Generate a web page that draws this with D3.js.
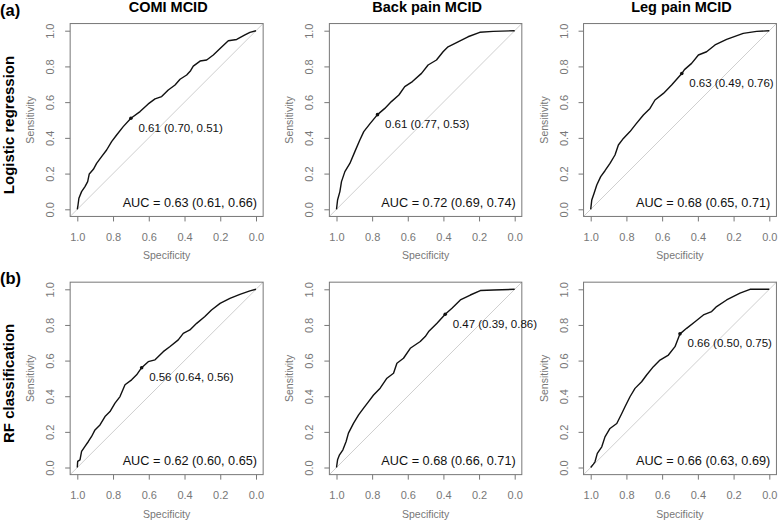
<!DOCTYPE html>
<html>
<head>
<meta charset="utf-8">
<script src="https://cdn.jsdelivr.net/npm/d3@7"></script>
<style>
  body { margin: 0; background: #fff; }
  svg { font-family: "Liberation Sans", Arial, sans-serif; }
</style>
</head>
<body>
<div id="chart"></div>
<script>
// values (specificity, sensitivity)
const panelTitles = ["COMI MCID", "Back pain MCID", "Leg pain MCID"];
const rowLabels = ["Logistic regression", "RF classification"];
const rowTags = ["(a)", "(b)"];
const tickValues = [1.0, 0.8, 0.6, 0.4, 0.2, 0.0];

const comiLrSpec = [1, 0.996, 0.991, 0.976, 0.957, 0.942, 0.933, 0.91, 0.892, 0.864, 0.836, 0.808, 0.78, 0.743, 0.70, 0.649, 0.603, 0.565, 0.528, 0.491, 0.453, 0.425, 0.388, 0.366, 0.351, 0.313, 0.276, 0.239, 0.201, 0.155, 0.108, 0.062, 0.034, 0];
const comiLrSens = [0, 0.024, 0.062, 0.099, 0.127, 0.155, 0.198, 0.224, 0.257, 0.295, 0.332, 0.379, 0.416, 0.463, 0.51, 0.547, 0.59, 0.618, 0.631, 0.668, 0.696, 0.728, 0.752, 0.776, 0.802, 0.83, 0.836, 0.864, 0.901, 0.944, 0.951, 0.976, 0.991, 1];

const backLrSpec = [1, 0.994, 0.981, 0.972, 0.953, 0.925, 0.897, 0.869, 0.847, 0.813, 0.77, 0.729, 0.692, 0.65, 0.617, 0.574, 0.523, 0.486, 0.439, 0.402, 0.374, 0.318, 0.262, 0.196, 0.121, 0];
const backLrSens = [0, 0.052, 0.099, 0.155, 0.211, 0.257, 0.323, 0.388, 0.435, 0.478, 0.53, 0.565, 0.603, 0.64, 0.687, 0.715, 0.761, 0.808, 0.836, 0.882, 0.91, 0.938, 0.966, 0.991, 0.996, 1];

const legLrSpec = [1, 0.994, 0.981, 0.966, 0.944, 0.92, 0.892, 0.864, 0.845, 0.817, 0.78, 0.746, 0.705, 0.668, 0.64, 0.593, 0.547, 0.49, 0.475, 0.435, 0.397, 0.351, 0.304, 0.239, 0.146, 0.071, 0];
const legLrSens = [0, 0.052, 0.09, 0.136, 0.183, 0.216, 0.257, 0.304, 0.36, 0.397, 0.435, 0.478, 0.528, 0.565, 0.612, 0.649, 0.696, 0.76, 0.782, 0.817, 0.864, 0.882, 0.92, 0.951, 0.985, 0.996, 1];

const comiRfSpec = [1, 0.998, 0.985, 0.976, 0.957, 0.938, 0.92, 0.901, 0.873, 0.845, 0.817, 0.789, 0.761, 0.733, 0.696, 0.668, 0.64, 0.603, 0.565, 0.519, 0.481, 0.435, 0.407, 0.37, 0.332, 0.286, 0.249, 0.201, 0.146, 0.09, 0.034, 0];
const comiRfSens = [0, 0.034, 0.043, 0.09, 0.118, 0.146, 0.174, 0.211, 0.239, 0.286, 0.314, 0.361, 0.398, 0.464, 0.492, 0.52, 0.56, 0.594, 0.604, 0.65, 0.679, 0.716, 0.753, 0.772, 0.809, 0.847, 0.884, 0.921, 0.949, 0.972, 0.991, 1];

const backRfSpec = [1, 0.994, 0.983, 0.964, 0.946, 0.933, 0.904, 0.876, 0.848, 0.82, 0.792, 0.755, 0.717, 0.68, 0.661, 0.624, 0.586, 0.53, 0.502, 0.483, 0.436, 0.39, 0.352, 0.305, 0.249, 0.193, 0.118, 0];
const backRfSens = [0, 0.043, 0.071, 0.099, 0.146, 0.193, 0.249, 0.295, 0.333, 0.37, 0.407, 0.445, 0.501, 0.529, 0.585, 0.613, 0.669, 0.707, 0.735, 0.763, 0.81, 0.86, 0.894, 0.94, 0.968, 0.993, 0.996, 1];

const legRfSpec = [1, 0.985, 0.976, 0.963, 0.938, 0.92, 0.892, 0.854, 0.826, 0.808, 0.78, 0.752, 0.715, 0.687, 0.649, 0.612, 0.565, 0.528, 0.50, 0.463, 0.416, 0.369, 0.323, 0.295, 0.239, 0.164, 0.108, 0];
const legRfSens = [0, 0.019, 0.032, 0.079, 0.116, 0.172, 0.219, 0.247, 0.303, 0.341, 0.397, 0.444, 0.481, 0.519, 0.566, 0.603, 0.631, 0.678, 0.75, 0.781, 0.818, 0.856, 0.875, 0.903, 0.94, 0.978, 1, 1];

const curveSpec = [comiLrSpec, backLrSpec, legLrSpec, comiRfSpec, backRfSpec, legRfSpec];
const curveSens = [comiLrSens, backLrSens, legLrSens, comiRfSens, backRfSens, legRfSens];

// best threshold: value, specificity, sensitivity
const thrValue = [0.61, 0.61, 0.63, 0.56, 0.47, 0.66];
const thrSpec = [0.70, 0.77, 0.49, 0.64, 0.39, 0.50];
const thrSens = [0.51, 0.53, 0.76, 0.56, 0.86, 0.75];

const aucValue = [0.63, 0.72, 0.68, 0.62, 0.68, 0.66];
const aucLow = [0.61, 0.69, 0.65, 0.60, 0.66, 0.63];
const aucHigh = [0.66, 0.74, 0.71, 0.65, 0.71, 0.69];

// layout
const width = 778, height = 522;
const colLeft = [77.3, 336.5, 590.7];   // pixel of specificity 1.0
const colRight = [256, 514.7, 769.3];   // pixel of specificity 0.0
const rowBottom = [209.3, 467.5];       // pixel of sensitivity 0.0
const rowTop = [30.7, 289.3];           // pixel of sensitivity 1.0

const gray = "#777";
const f2 = d3.format(".2f");

const svg = d3.select("#chart").append("svg")
  .attr("width", width)
  .attr("height", height);

rowTags.forEach((t, r) => {
  svg.append("text")
    .attr("x", 0)
    .attr("y", r === 0 ? 15.5 : 284)
    .attr("font-size", 16.5)
    .attr("font-weight", "bold")
    .text(t);

  svg.append("text")
    .attr("transform", `translate(14,${(rowTop[r] + rowBottom[r]) / 2 + 5}) rotate(-90)`)
    .attr("text-anchor", "middle")
    .attr("font-size", 15)
    .attr("font-weight", "bold")
    .text(rowLabels[r]);
});

for (let r = 0; r < 2; r++) {
  for (let c = 0; c < 3; c++) {
    const i = r * 3 + c;
    const x = d3.scaleLinear().domain([1, 0]).range([colLeft[c], colRight[c]]);
    const y = d3.scaleLinear().domain([0, 1]).range([rowBottom[r], rowTop[r]]);

    const g = svg.append("g");
    const bx0 = x(1.04), bx1 = x(-0.04), by0 = y(-0.04), by1 = y(1.04);

    if (r === 0) {
      g.append("text")
        .attr("x", (bx0 + bx1) / 2 + 1.5)
        .attr("y", 12)
        .attr("text-anchor", "middle")
        .attr("font-size", 14.5)
        .attr("font-weight", "bold")
        .text(panelTitles[c]);
    }

    // identity line
    g.append("line")
      .attr("x1", bx0).attr("y1", by0)
      .attr("x2", bx1).attr("y2", by1)
      .attr("stroke", "#cfcfcf")
      .attr("stroke-width", 1);

    // axes
    const xAxis = g.append("g")
      .attr("transform", `translate(0,${by0})`)
      .call(d3.axisBottom(x).tickValues(tickValues).tickFormat(d3.format(".1f")).tickSize(5).tickPadding(4));
    const yAxis = g.append("g")
      .attr("transform", `translate(${bx0},0)`)
      .call(d3.axisLeft(y).tickValues(tickValues.slice().reverse()).tickFormat(d3.format(".1f")).tickSize(5));

    [xAxis, yAxis].forEach(a => {
      a.select(".domain").remove();
      a.selectAll(".tick line").attr("stroke", gray);
      a.selectAll(".tick text")
        .attr("fill", gray)
        .attr("font-size", 11)
        .attr("font-family", "Liberation Sans, Arial, sans-serif");
    });
    xAxis.selectAll(".tick text").attr("dy", 0).attr("y", 32 - (by0 - rowBottom[r]));
    yAxis.selectAll(".tick text")
      .attr("x", null).attr("dy", 0)
      .attr("y", -16)
      .attr("transform", "rotate(-90)")
      .attr("text-anchor", "middle");

    // box
    g.append("rect")
      .attr("x", bx0).attr("y", by1)
      .attr("width", bx1 - bx0).attr("height", by0 - by1)
      .attr("fill", "none")
      .attr("stroke", gray)
      .attr("stroke-width", 1);

    g.append("text")
      .attr("x", (colLeft[c] + colRight[c]) / 2)
      .attr("y", rowBottom[r] + 50)
      .attr("text-anchor", "middle")
      .attr("font-size", 10.5)
      .attr("fill", gray)
      .text("Specificity");

    g.append("text")
      .attr("transform", `translate(${bx0 - 36},${(rowTop[r] + rowBottom[r]) / 2}) rotate(-90)`)
      .attr("text-anchor", "middle")
      .attr("font-size", 10.5)
      .attr("fill", gray)
      .text("Sensitivity");

    // ROC curve
    const pts = curveSpec[i].map((s, k) => [s, curveSens[i][k]]);
    g.append("path")
      .datum(pts)
      .attr("fill", "none")
      .attr("stroke", "#111")
      .attr("stroke-width", 1.4)
      .attr("stroke-linejoin", "round")
      .attr("d", d3.line().x(d => x(d[0])).y(d => y(d[1])));

    // threshold
    g.append("circle")
      .attr("cx", x(thrSpec[i])).attr("cy", y(thrSens[i]))
      .attr("r", 1.8)
      .attr("fill", "#111");
    g.append("text")
      .attr("x", x(thrSpec[i]) + 7.5)
      .attr("y", y(thrSens[i]) + 13.5)
      .attr("font-size", 11.5)
      .attr("fill", "#111")
      .text(`${f2(thrValue[i])} (${f2(thrSpec[i])}, ${f2(thrSens[i])})`);

    // AUC
    g.append("text")
      .attr("x", x(0) + 1)
      .attr("y", y(0) - 2.5)
      .attr("text-anchor", "end")
      .attr("font-size", 12.7)
      .attr("fill", "#111")
      .text(`AUC = ${f2(aucValue[i])} (${f2(aucLow[i])}, ${f2(aucHigh[i])})`);
  }
}
</script>
</body>
</html>
